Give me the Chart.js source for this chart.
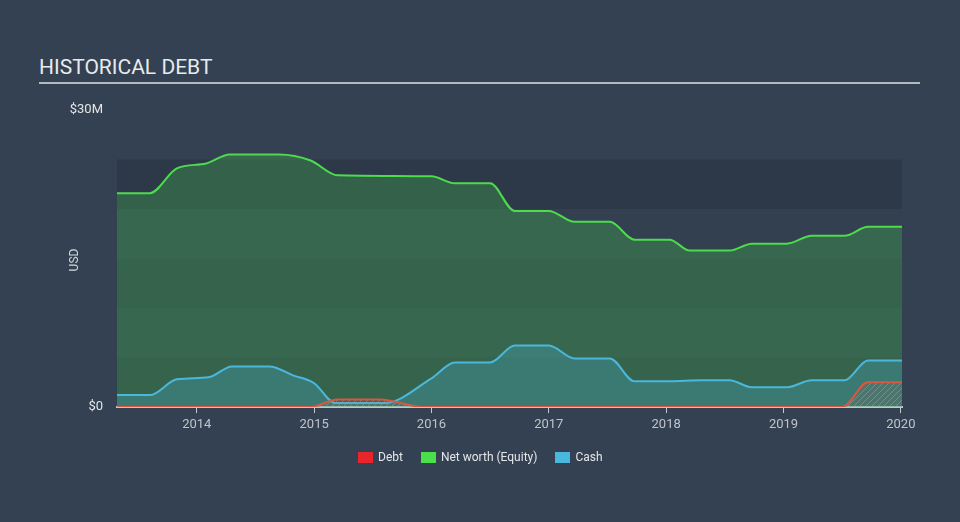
<!DOCTYPE html>
<html lang="en">
<head>
    <meta charset="UTF-8">
    <title>Historical Debt</title>
    <style>
        body {
            margin: 0;
            padding: 0;
            background: #344152;
            font-family: Roboto, Arial, sans-serif;
            width: 960px;
            height: 522px;
            overflow: hidden;
            position: relative;
        }

        .title {
            position: absolute;
            left: 39px;
            top: 55px;
            width: 881px;
            color: #e8eaec;
            font-size: 21px;
            padding-bottom: 3px;
            border-bottom: 2px solid #b4b9c0;
            line-height: 24px;
        }

        .chart-box {
            position: absolute;
            left: 0;
            top: 0;
            width: 960px;
            height: 522px;
        }

        .legend-container {
            position: absolute;
            top: 450px;
            left: 358px;
            display: flex;
            gap: 18px;
            font-size: 12px;
            color: #e4e6e8;
        }

        .legend-item {
            display: flex;
            align-items: center;
            gap: 5px;
        }

        .legend-color {
            width: 15px;
            height: 11px;
        }
    </style>
</head>
<body>

<div class="title">HISTORICAL DEBT</div>

<div class="chart-box">
    <canvas id="chart" width="960" height="522"></canvas>
</div>

<div class="legend-container">
    <div class="legend-item">
        <div class="legend-color" style="background-color: #e8252a;"></div>
        <span>Debt</span>
    </div>
    <div class="legend-item">
        <div class="legend-color" style="background-color: #4ae04a;"></div>
        <span>Net worth (Equity)</span>
    </div>
    <div class="legend-item">
        <div class="legend-color" style="background-color: #4ab8dc;"></div>
        <span>Cash</span>
    </div>
</div>

<script src="https://cdn.jsdelivr.net/npm/chart.js"></script>

<script>
    // values in $M, x as decimal years
    const yearTicks = [2014, 2015, 2016, 2017, 2018, 2019, 2020];

    const equityX = [2013.32, 2013.6, 2013.83, 2014.08, 2014.28, 2014.7, 2014.97, 2015.2, 2016.0, 2016.2, 2016.5, 2016.71, 2017.0, 2017.22, 2017.52, 2017.73, 2018.03, 2018.2, 2018.54, 2018.73, 2019.03, 2019.24, 2019.52, 2019.72, 2020.01];
    const equityY = [21.6, 21.6, 24.1, 24.6, 25.5, 25.5, 24.9, 23.4, 23.3, 22.6, 22.6, 19.8, 19.8, 18.7, 18.7, 16.9, 16.9, 15.8, 15.8, 16.5, 16.5, 17.3, 17.3, 18.2, 18.2];

    const cashX = [2013.32, 2013.6, 2013.83, 2014.1, 2014.3, 2014.62, 2014.82, 2015.0, 2015.18, 2015.6, 2016.0, 2016.2, 2016.5, 2016.71, 2017.0, 2017.22, 2017.52, 2017.73, 2018.03, 2018.3, 2018.54, 2018.73, 2019.03, 2019.24, 2019.52, 2019.72, 2020.01];
    const cashY = [1.2, 1.2, 2.8, 3.0, 4.1, 4.1, 3.2, 2.4, 0.4, 0.4, 2.9, 4.5, 4.5, 6.2, 6.2, 4.9, 4.9, 2.6, 2.6, 2.7, 2.7, 2.0, 2.0, 2.7, 2.7, 4.7, 4.7];

    const debtX = [2013.32, 2014.97, 2015.2, 2015.56, 2015.93, 2019.5, 2019.72, 2020.01];
    const debtY = [0, 0, 0.75, 0.75, 0, 0, 2.5, 2.5];

    const toPoints = (xs, ys) => xs.map((x, i) => ({ x: x, y: ys[i] }));

    // hatch pattern for debt area
    const patCanvas = document.createElement('canvas');
    patCanvas.width = 6;
    patCanvas.height = 6;
    const pctx = patCanvas.getContext('2d');
    pctx.fillStyle = 'rgba(214, 86, 62, 0.12)';
    pctx.fillRect(0, 0, 6, 6);
    pctx.strokeStyle = 'rgba(190, 150, 140, 0.55)';
    pctx.lineWidth = 1;
    pctx.beginPath();
    pctx.moveTo(0, 6);
    pctx.lineTo(6, 0);
    pctx.moveTo(-3, 3);
    pctx.lineTo(3, -3);
    pctx.moveTo(3, 9);
    pctx.lineTo(9, 3);
    pctx.stroke();

    const ctx = document.getElementById('chart').getContext('2d');
    const hatch = ctx.createPattern(patCanvas, 'repeat');

    // plot background bands + rotated USD label
    const bgPlugin = {
        id: 'bgBands',
        beforeDraw(chart) {
            const { ctx, chartArea, scales } = chart;
            const y = scales.y;
            const bands = [[20, 25, '#2d3949'], [15, 20, '#324050'], [10, 15, '#2f3b4c'], [5, 10, '#324050'], [0, 5, '#2f3b4c']];
            ctx.save();
            bands.forEach(b => {
                const top = y.getPixelForValue(b[1]);
                const bot = y.getPixelForValue(b[0]);
                ctx.fillStyle = b[2];
                ctx.fillRect(chartArea.left, top, chartArea.right - chartArea.left, bot - top);
            });
            ctx.translate(75, 260);
            ctx.rotate(-Math.PI / 2);
            ctx.fillStyle = '#d4d8dc';
            ctx.font = '12px Roboto';
            ctx.textAlign = 'center';
            ctx.textBaseline = 'middle';
            ctx.fillText('USD', 0, 0);
            ctx.restore();
        }
    };

    const chart = new Chart(ctx, {
        type: 'line',
        data: {
            datasets: [
                {
                    label: 'Debt',
                    data: toPoints(debtX, debtY),
                    borderColor: '#d9583f',
                    backgroundColor: hatch,
                    fill: 'origin'
                },
                {
                    label: 'Cash',
                    data: toPoints(cashX, cashY),
                    borderColor: '#4ab8dc',
                    backgroundColor: 'rgba(74, 184, 220, 0.27)',
                    fill: 'origin'
                },
                {
                    label: 'Net worth (Equity)',
                    data: toPoints(equityX, equityY),
                    borderColor: '#4cdc4c',
                    backgroundColor: 'rgba(76, 220, 76, 0.25)',
                    fill: 'origin'
                }
            ]
        },
        options: {
            responsive: false,
            animation: false,
            layout: {
                padding: { left: 0, right: 58, top: 110, bottom: 85 }
            },
            elements: {
                point: { radius: 0 },
                line: { borderWidth: 2, cubicInterpolationMode: 'monotone' }
            },
            scales: {
                x: {
                    type: 'linear',
                    min: 2013.32,
                    max: 2020.01,
                    afterBuildTicks: (scale) => {
                        scale.ticks = yearTicks.map(v => ({ value: v }));
                    },
                    afterFit: (scale) => { scale.height = 30; },
                    grid: {
                        drawOnChartArea: false,
                        drawTicks: true,
                        tickLength: 6,
                        color: '#c4c8ce'
                    },
                    border: { display: true, color: '#c4c8ce', width: 2 },
                    ticks: {
                        color: '#bfc4ca',
                        font: { family: 'Roboto', size: 13 },
                        padding: 4,
                        maxRotation: 0,
                        callback: (v) => String(v)
                    }
                },
                y: {
                    min: 0,
                    max: 30,
                    afterBuildTicks: (scale) => {
                        scale.ticks = [{ value: 0 }, { value: 30 }];
                    },
                    afterFit: (scale) => { scale.width = 117; },
                    grid: { display: false, drawTicks: false },
                    border: { display: false },
                    ticks: {
                        color: '#e4e6e8',
                        font: { family: 'Roboto', size: 13 },
                        padding: 14,
                        callback: (v) => v === 0 ? '$0' : '$' + v + 'M'
                    }
                }
            },
            plugins: {
                legend: { display: false },
                tooltip: { enabled: false }
            }
        },
        plugins: [bgPlugin]
    });
</script>

</body>
</html>
